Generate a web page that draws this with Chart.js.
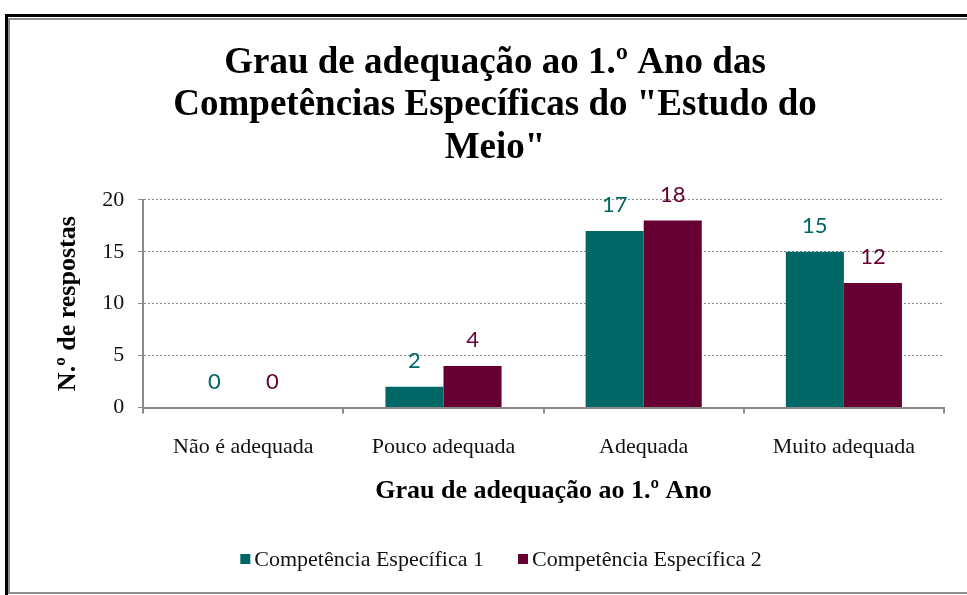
<!DOCTYPE html>
<html>
<head>
<meta charset="utf-8">
<script src="https://cdn.jsdelivr.net/npm/chart.js@4.4.1/dist/chart.umd.min.js"></script>
<style>
  html, body { margin: 0; padding: 0; background: #fff; overflow: hidden; width: 967px; height: 595px; }
  #outer { position: absolute; left: 5px; top: 14px; width: 1100px; height: 700px; border-top: 3px solid #000; border-left: 3px solid #000; }
  #inner { position: absolute; left: 8px; top: 18px; width: 1100px; height: 572px; border: 2px solid #8e8e8e; }
  #wrap { position: absolute; left: 10px; top: 20px; width: 970px; height: 570px; }
</style>
</head>
<body>
<div id="outer"></div>
<div id="inner"></div>
<div id="wrap"><canvas id="c" width="970" height="570"></canvas></div>
<script>
const titleLines = ['Grau de adequação ao 1.º Ano das', 'Competências Específicas do "Estudo do', 'Meio"'];
const categories = ['Não é adequada', 'Pouco adequada', 'Adequada', 'Muito adequada'];
const seriesNames = ['Competência Específica 1', 'Competência Específica 2'];
const series1 = [0, 2, 17, 15];
const series2 = [0, 4, 18, 12];
const yTicks = [0, 5, 10, 15, 20];
const xTitle = 'Grau de adequação ao 1.º Ano';
const yTitle = 'N.º de respostas';

const SERIF = "'Liberation Serif', 'Times New Roman', serif";
const SANS = "Lato, 'Open Sans', sans-serif";
const COLORS = ['#006666', '#660033'];

const valueLabels = {
  id: 'valueLabels',
  afterDatasetsDraw(chart) {
    const ctx = chart.ctx;
    ctx.save();
    ctx.font = '22px ' + SANS;
    ctx.textAlign = 'center';
    ctx.textBaseline = 'middle';
    chart.data.datasets.forEach((ds, i) => {
      const meta = chart.getDatasetMeta(i);
      ctx.fillStyle = ds.backgroundColor;
      meta.data.forEach((el, j) => {
        ctx.fillText(String(ds.data[j]), el.x, el.y - 26);
      });
    });
    ctx.restore();
  }
};

const customLegend = {
  id: 'customLegend',
  afterDraw(chart) {
    const ctx = chart.ctx;
    ctx.save();
    ctx.font = '22px ' + SERIF;
    ctx.textBaseline = 'middle';
    ctx.textAlign = 'left';
    const box = 10, gap = 4, itemGap = 34;
    const items = chart.data.datasets.map(ds => ({ text: ds.label, color: ds.backgroundColor, w: ctx.measureText(ds.label).width }));
    let total = 0;
    items.forEach((it, i) => { total += box + gap + it.w + (i ? itemGap : 0); });
    let x = 491 - total / 2;
    const y = 540;
    items.forEach((it, i) => {
      if (i) x += itemGap;
      ctx.fillStyle = it.color;
      ctx.fillRect(x, y - 6, box, box);
      ctx.fillStyle = '#111';
      ctx.fillText(it.text, x + box + gap, y);
      x += box + gap + it.w;
    });
    ctx.restore();
  }
};

new Chart(document.getElementById('c'), {
  type: 'bar',
  data: {
    labels: categories,
    datasets: [
      { label: seriesNames[0], data: series1, backgroundColor: COLORS[0], categoryPercentage: 0.58, barPercentage: 1 },
      { label: seriesNames[1], data: series2, backgroundColor: COLORS[1], categoryPercentage: 0.58, barPercentage: 1 }
    ]
  },
  options: {
    responsive: false,
    animation: false,
    layout: { padding: { left: 36, right: 36, top: 0, bottom: 78 } },
    plugins: {
      legend: { display: false },
      tooltip: { enabled: false },
      title: {
        display: true,
        text: titleLines,
        color: '#000',
        font: { family: SERIF, size: 37, weight: 'bold', lineHeight: 1.16 },
        padding: { top: 21.5, bottom: 29.5 }
      }
    },
    scales: {
      x: {
        grid: { display: true, drawOnChartArea: false, drawTicks: true, tickLength: 6, color: '#8a8a8a', lineWidth: 2, offset: true },
        border: { display: true, color: '#8a8a8a', width: 2 },
        ticks: { color: '#111', font: { family: SERIF, size: 22 }, padding: 20, maxRotation: 0 },
        title: { display: true, text: xTitle, color: '#000', font: { family: SERIF, size: 26, weight: 'bold', lineHeight: 1.0 }, padding: { top: -2, bottom: 8 } }
      },
      y: {
        min: 0, max: 20,
        afterBuildTicks(scale) { scale.ticks = yTicks.map(v => ({ value: v })); },
        grid: { color: '#8a8a8a', lineWidth: 1, drawTicks: true, tickLength: 5, tickColor: '#8a8a8a', tickBorderDash: [] },
        border: { display: true, color: '#8a8a8a', width: 2, dash: [2, 2] },
        ticks: { color: '#111', font: { family: SERIF, size: 22 }, padding: 14 },
        title: { display: true, text: yTitle, color: '#000', font: { family: SERIF, size: 26, weight: 'bold', lineHeight: 1.2 }, padding: { top: 7, bottom: 4 } }
      }
    }
  },
  plugins: [valueLabels, customLegend]
});
</script>
</body>
</html>
